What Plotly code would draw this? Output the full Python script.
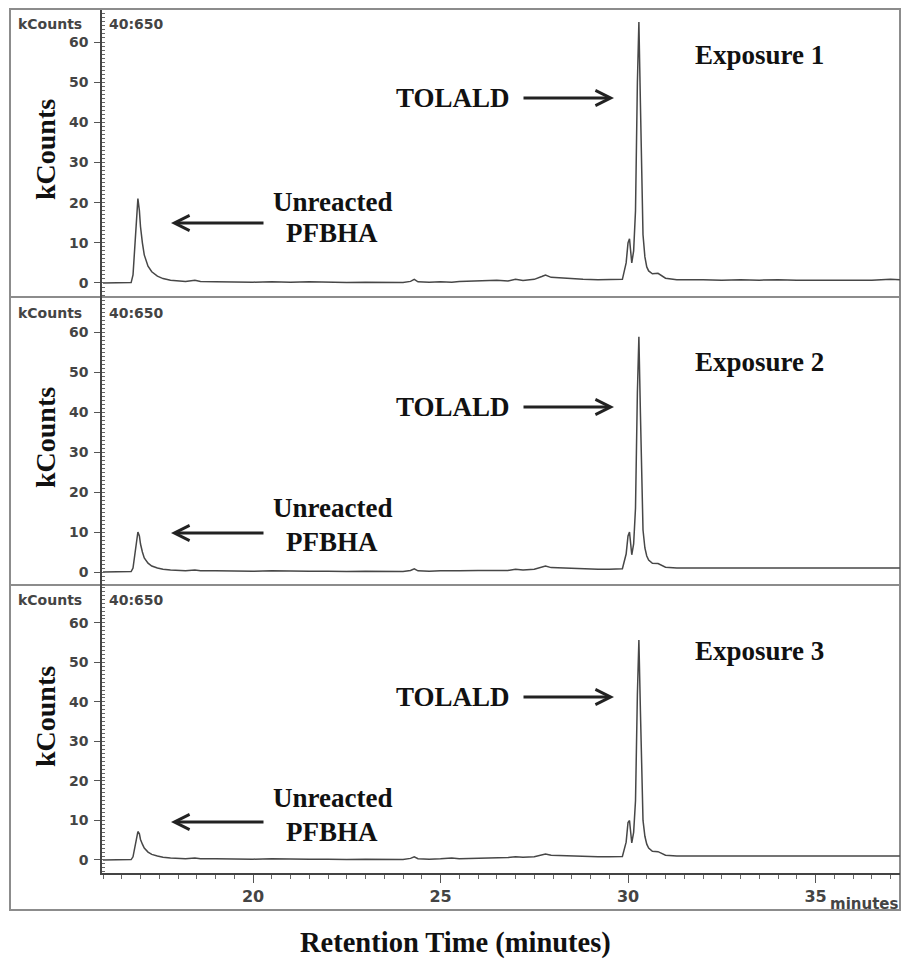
import plotly.graph_objects as go

# ---------------- data ----------------
TIME_MIN = [
    16.0, 16.4, 16.75, 16.8, 16.85, 16.9, 16.93, 16.97, 17.0, 17.05,
    17.1, 17.2, 17.3, 17.45, 17.6, 17.8, 18.0, 18.2, 18.45, 18.6,
    19.0, 19.5, 20.0, 20.5, 21.0, 21.5, 22.0, 22.5, 23.0, 23.5,
    24.0, 24.2, 24.3, 24.4, 24.7, 25.0, 25.3, 25.5, 26.0, 26.5,
    26.8, 27.0, 27.2, 27.5, 27.7, 27.8, 27.95, 28.2, 28.5, 28.8,
    29.2, 29.5, 29.85, 29.95, 30.0, 30.04, 30.1, 30.15, 30.2, 30.25,
    30.29, 30.33, 30.37, 30.4, 30.45, 30.5, 30.55, 30.65, 30.8, 30.9,
    31.0, 31.3, 31.7, 32.0, 32.5, 33.0, 33.5, 34.0, 34.5, 35.0,
    35.5, 36.0, 36.5, 37.0, 37.25,
]

EXPOSURE_1 = [
    0.0, 0.0, 0.1, 2.0, 9.0, 18.0, 21.0, 18.0, 14.0, 10.0,
    7.0, 4.2, 2.8, 1.7, 1.1, 0.7, 0.5, 0.4, 0.7, 0.4,
    0.3, 0.2, 0.2, 0.3, 0.2, 0.3, 0.2, 0.1, 0.2, 0.2,
    0.1, 0.4, 0.9, 0.3, 0.2, 0.3, 0.2, 0.4, 0.5, 0.7,
    0.5, 0.9, 0.6, 0.9, 1.6, 2.0, 1.4, 1.2, 1.0, 0.9,
    0.8, 0.8, 0.9, 5.0, 10.0, 11.0, 5.0, 8.0, 18.0, 50.0,
    65.0, 45.0, 22.0, 12.0, 6.5, 4.0, 3.0, 2.3, 2.4, 1.7,
    1.2, 0.8, 0.7, 0.8, 0.7, 0.8, 0.7, 0.8, 0.7, 0.7,
    0.7, 0.8, 0.7, 0.9, 0.8,
]

EXPOSURE_2 = [
    0.0, 0.0, 0.1, 1.0, 4.5, 8.5, 10.0, 9.0, 7.0, 5.0,
    3.5, 2.2, 1.5, 1.0, 0.7, 0.5, 0.4, 0.3, 0.5, 0.3,
    0.3, 0.2, 0.2, 0.3, 0.2, 0.2, 0.2, 0.1, 0.2, 0.2,
    0.1, 0.4, 0.8, 0.3, 0.2, 0.3, 0.2, 0.3, 0.4, 0.5,
    0.4, 0.7, 0.5, 0.7, 1.2, 1.5, 1.1, 1.0, 0.8, 0.8,
    0.7, 0.7, 0.8, 4.5, 9.0, 10.0, 4.3, 7.0, 16.0, 45.0,
    58.8, 40.0, 19.0, 10.5, 6.0, 4.0, 3.0, 2.2, 2.1, 1.6,
    1.2, 1.0, 1.0, 1.1, 1.0, 1.1, 1.0, 1.1, 1.0, 1.0,
    1.0, 1.1, 1.0, 1.1, 1.0,
]

EXPOSURE_3 = [
    0.0, 0.0, 0.1, 0.8, 3.5, 6.3, 7.2, 6.6, 5.2, 4.0,
    3.0, 2.0, 1.4, 1.0, 0.7, 0.5, 0.4, 0.3, 0.5, 0.3,
    0.3, 0.2, 0.2, 0.3, 0.2, 0.2, 0.2, 0.1, 0.2, 0.2,
    0.1, 0.4, 0.8, 0.3, 0.2, 0.3, 0.5, 0.3, 0.4, 0.5,
    0.6, 0.8, 0.7, 0.8, 1.3, 1.5, 1.2, 1.1, 0.9, 0.9,
    0.8, 0.8, 0.9, 4.5, 9.5, 10.0, 4.3, 7.0, 15.0, 42.0,
    55.7, 38.0, 18.0, 10.0, 6.0, 4.0, 3.0, 2.2, 2.1, 1.6,
    1.2, 1.0, 1.0, 1.1, 1.0, 1.1, 1.0, 1.1, 1.0, 1.0,
    1.0, 1.1, 1.0, 1.1, 1.0,
]

PANEL_LABELS = ["Exposure 1", "Exposure 2", "Exposure 3"]
Y_TICKS = [0, 10, 20, 30, 40, 50, 60]
X_TICKS = [20, 25, 30, 35]
X_RANGE = [15.973, 37.253]
Y_RANGES = [[-3.49, 67.97], [-3.25, 68.75], [-3.3, 69.6]]

assert len(TIME_MIN) == len(EXPOSURE_1) == len(EXPOSURE_2) == len(EXPOSURE_3)

# ---------------- layout helpers (pixel -> paper) ----------------
W, H = 902, 959


def px(x):
    return x / W


def py(y):
    return 1 - y / H


PANEL_TOP = [10, 297, 585]
PANEL_BOT = [297, 585, 873]
PLOT_L, PLOT_R = 102, 900

SERIF_B = dict(family="Liberation Serif, Times New Roman, serif", color="#111", weight="bold")
SANS_B = dict(family="DejaVu Sans, Arial, sans-serif", color="#444", weight="bold")

fig = go.Figure()
series = [EXPOSURE_1, EXPOSURE_2, EXPOSURE_3]
for i, ys in enumerate(series, start=1):
    suf = "" if i == 1 else str(i)
    fig.add_trace(go.Scatter(
        x=TIME_MIN, y=ys, mode="lines",
        line=dict(color="#474747", width=1.5),
        xaxis="x" + suf, yaxis="y" + suf,
        showlegend=False, hoverinfo="skip",
    ))

layout = dict(
    width=W, height=H,
    margin=dict(l=0, r=0, t=0, b=0),
    paper_bgcolor="white", plot_bgcolor="white",
    showlegend=False,
)

for i in range(1, 4):
    suf = "" if i == 1 else str(i)
    top, bot = PANEL_TOP[i - 1], PANEL_BOT[i - 1]
    layout["yaxis" + suf] = dict(
        domain=[py(bot), py(top)], range=Y_RANGES[i - 1], anchor="x" + suf,
        tickmode="array", tickvals=Y_TICKS,
        ticks="outside", ticklen=6, tickwidth=1.2, tickcolor="#555",
        showline=True, linecolor="#444", linewidth=1.5,
        showgrid=False, zeroline=False,
        tickfont=dict(SANS_B, size=14),
        ticklabelstandoff=3,
        minor=dict(tickmode="linear", tick0=0, dtick=1, ticks="inside",
                   ticklen=3, tickwidth=1, tickcolor="#666"),
        fixedrange=True,
    )
    xa = dict(domain=[px(PLOT_L), px(PLOT_R)], range=X_RANGE, anchor="y" + suf,
              showgrid=False, zeroline=False, fixedrange=True)
    if i < 3:
        xa.update(visible=False, matches="x3")
    else:
        xa.update(
            tickmode="array", tickvals=X_TICKS,
            ticks="outside", ticklen=8, tickwidth=1.2, tickcolor="#555",
            showline=True, linecolor="#444", linewidth=1.5,
            tickfont=dict(SANS_B, size=16),
            minor=dict(tickmode="linear", tick0=0, dtick=0.5, ticks="outside",
                       ticklen=4, tickwidth=1, tickcolor="#666"),
        )
    layout["xaxis" + suf] = xa

annotations = []


def text(t, x, y, font, xanchor="center", yanchor="middle", angle=0):
    annotations.append(dict(
        text=t, x=px(x), y=py(y), xref="paper", yref="paper",
        xanchor=xanchor, yanchor=yanchor, showarrow=False,
        font=font, textangle=angle,
    ))


def arrow(x_head, x_tail, y):
    annotations.append(dict(
        text="", x=px(x_head), y=py(y), xref="paper", yref="paper",
        ax=x_tail - x_head, ay=0, axref="pixel", ayref="pixel",
        showarrow=True, arrowhead=5, arrowsize=1.0, arrowwidth=3,
        arrowcolor="#222",
    ))


# per-panel text positions (pixels)
KC_Y = [24, 313, 600]
YTITLE_Y = [150, 438, 717]
EXPO_Y = [55, 362, 651]
TOL_Y = [98, 407, 697]
UNR_Y = [202, 508, 798]
PFB_Y = [233, 542, 832]
PFB_ARROW_Y = [223, 533, 822]

for k in range(3):
    text("kCounts", 16, KC_Y[k], dict(SANS_B, size=14), xanchor="left")
    text("40:650", 107, KC_Y[k], dict(SANS_B, size=14), xanchor="left")
    text("kCounts", 45, YTITLE_Y[k], dict(SERIF_B, size=28), angle=-90)
    text(PANEL_LABELS[k], 759, EXPO_Y[k], dict(SERIF_B, size=27))
    text("TOLALD", 512, TOL_Y[k], dict(SERIF_B, size=27), xanchor="right")
    arrow(614, 522, TOL_Y[k])
    text("Unreacted", 332, UNR_Y[k], dict(SERIF_B, size=27))
    text("PFBHA", 332, PFB_Y[k], dict(SERIF_B, size=27))
    arrow(171, 265, PFB_ARROW_Y[k])

text("minutes", 828, 904, dict(SANS_B, size=15), xanchor="left")
text("Retention Time (minutes)", 456, 943, dict(SERIF_B, size=28.5))

layout["annotations"] = annotations

FRAME = "#8c8c8c"
shapes = [
    dict(type="rect", xref="paper", yref="paper",
         x0=px(10), x1=px(900), y0=py(910), y1=py(9),
         line=dict(color=FRAME, width=2), layer="below"),
]
for yy in (297, 585):
    shapes.append(dict(type="line", xref="paper", yref="paper",
                       x0=px(10), x1=px(900), y0=py(yy), y1=py(yy),
                       line=dict(color=FRAME, width=2), layer="below"))
layout["shapes"] = shapes

fig.update_layout(**layout)
fig.write_html("out.html")
